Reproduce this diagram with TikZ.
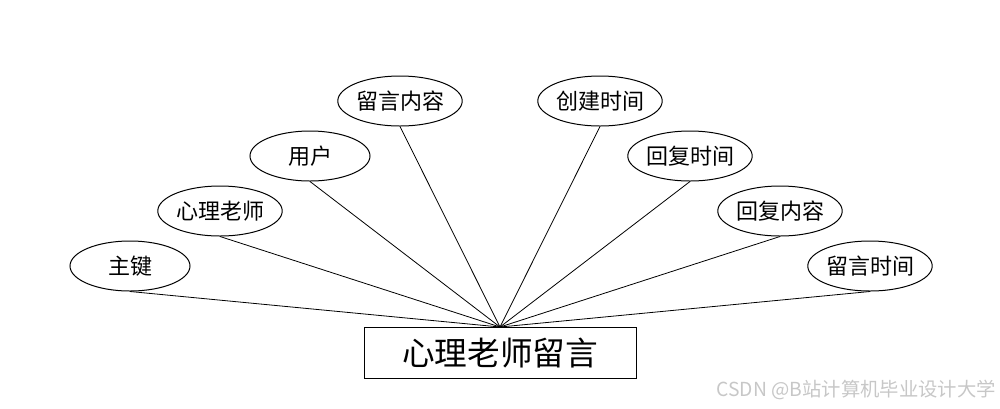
\documentclass[tikz,border=0pt]{standalone}
\usepackage{fontspec}
\newfontfamily\cjk{Noto Sans CJK SC}
\usetikzlibrary{shapes.geometric}
\begin{document}
\begin{tikzpicture}[x=0.75pt,y=-0.75pt,
  attr/.style={draw,ellipse,line width=0.75pt,minimum width=90pt,minimum height=37.5pt,inner sep=0pt,font=\cjk\fontsize{16.5}{19}\selectfont},
  entity/.style={draw,rectangle,line width=0.75pt,minimum width=204pt,minimum height=38pt,inner sep=0pt,font=\cjk\fontsize{24.5}{29}\selectfont},
  link/.style={line width=0.6pt}]
\useasboundingbox (0,0) rectangle (1000,408);
\node[entity] (e) at (500,353) {心理老师留言};
\coordinate (c) at (500,327);
\node[attr] (a1) at (130,266) {主键};
\node[attr] (a2) at (220,211) {心理老师};
\node[attr] (a3) at (310,156) {用户};
\node[attr] (a4) at (400,101) {留言内容};
\node[attr] (a5) at (600,101) {创建时间};
\node[attr] (a6) at (690,156) {回复时间};
\node[attr] (a7) at (780,211) {回复内容};
\node[attr] (a8) at (870,266) {留言时间};
\foreach \i in {1,...,8} \draw[link] (a\i.south) -- (c);
\node[anchor=east,text=black!22,inner sep=0pt,font=\cjk\fontsize{14.5}{17}\selectfont] (wm) at (996,390) {CSDN @B站计算机毕业设计大学};
\end{tikzpicture}
\end{document}
